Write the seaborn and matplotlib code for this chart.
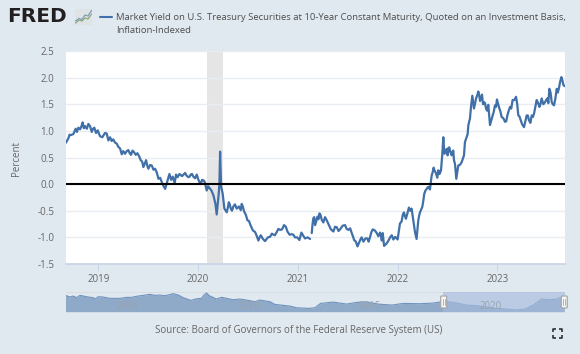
import seaborn as sns
import matplotlib.pyplot as plt
from matplotlib.patches import FancyBboxPatch, Rectangle

# main series (decimal year, percent)
years = [2018.676, 2018.700, 2018.723, 2018.750, 2018.773, 2018.800, 2018.817, 2018.843, 2018.867, 2018.900,
         2018.934, 2018.960, 2018.994, 2019.017, 2019.067, 2019.101, 2019.134, 2019.168, 2019.201, 2019.235,
         2019.268, 2019.301, 2019.328, 2019.358, 2019.392, 2019.425, 2019.452, 2019.479, 2019.502, 2019.536,
         2019.569, 2019.603, 2019.636, 2019.670, 2019.713, 2019.746, 2019.766, 2019.779, 2019.813,
         2019.870, 2019.903, 2019.926, 2019.953, 2019.987, 2020.013, 2020.040, 2020.067, 2020.087, 2020.114,
         2020.134, 2020.154, 2020.174, 2020.187, 2020.207, 2020.214, 2020.221, 2020.231, 2020.247, 2020.264,
         2020.288, 2020.308, 2020.328, 2020.354, 2020.388, 2020.428, 2020.438, 2020.461, 2020.495, 2020.528,
         2020.572, 2020.605, 2020.629, 2020.672, 2020.722, 2020.756, 2020.789, 2020.822, 2020.862, 2020.896,
         2020.939, 2020.972, 2021.016, 2021.036, 2021.073, 2021.123]
values = [0.78, 0.86, 0.92, 0.94, 1.04, 1.06, 1.03, 1.16, 1.09, 1.13,
          0.98, 1.06, 1.01, 0.90, 0.96, 0.82, 0.81, 0.78, 0.70, 0.56,
          0.57, 0.64, 0.55, 0.60, 0.58, 0.45, 0.32, 0.45, 0.29, 0.35,
          0.29, 0.10, 0.04, -0.09, 0.19, 0.14, 0.02, 0.18, 0.19,
          0.21, 0.13, 0.18, 0.14, 0.18, 0.04, 0.08, 0.04, -0.12, -0.07,
          -0.12, -0.21, -0.37, -0.57, -0.18, 0.00, 0.61, -0.04, -0.18, -0.46,
          -0.53, -0.34, -0.46, -0.42, -0.46, -0.49, -0.37, -0.51, -0.68, -0.78,
          -0.90, -1.06, -0.96, -1.07, -0.99, -0.95, -0.90, -0.86, -0.77, -0.89,
          -0.94, -1.00, -1.05, -0.91, -1.02, -1.03]

# in-between wiggles of the same stretch
years_fine = [2018.712, 2018.786, 2018.830, 2018.855, 2018.885, 2018.917, 2018.947, 2018.977, 2019.040, 2019.084,
              2019.118, 2019.150, 2019.185, 2019.218, 2019.250, 2019.285, 2019.315, 2019.343, 2019.375, 2019.410,
              2019.440, 2019.465, 2019.490, 2019.520, 2019.553, 2019.586, 2019.620, 2019.652, 2019.690, 2019.730,
              2019.795, 2019.840, 2019.885, 2019.915, 2019.940, 2019.970, 2020.000, 2020.027, 2020.055, 2020.100,
              2020.300, 2020.318, 2020.340, 2020.370, 2020.410, 2020.450, 2020.480, 2020.510, 2020.550, 2020.590,
              2020.617, 2020.650, 2020.700, 2020.740, 2020.770, 2020.805, 2020.842, 2020.880, 2020.918, 2020.955,
              2020.995, 2021.026, 2021.055, 2021.100]
values_fine = [0.93, 0.98, 1.08, 1.05, 1.04, 1.09, 1.04, 0.96, 0.88, 0.95,
               0.88, 0.84, 0.76, 0.67, 0.62, 0.62, 0.58, 0.63, 0.55, 0.52,
               0.42, 0.38, 0.35, 0.36, 0.27, 0.22, 0.12, -0.03, 0.04, 0.08,
               0.13, 0.15, 0.16, 0.14, 0.19, 0.11, 0.10, 0.00, 0.07, -0.04,
               -0.43, -0.38, -0.50, -0.38, -0.42, -0.43, -0.58, -0.69, -0.87, -0.98,
               -1.00, -1.03, -1.00, -0.93, -0.96, -0.84, -0.85, -0.80, -0.95, -0.95,
               -1.00, -0.98, -0.97, -1.00]

# after the hole in the data early in 2021
years2 = [2021.140, 2021.156, 2021.173, 2021.197, 2021.217, 2021.240, 2021.273, 2021.307, 2021.357, 2021.391,
          2021.424, 2021.474, 2021.508, 2021.541, 2021.565, 2021.598, 2021.625, 2021.658, 2021.698, 2021.725,
          2021.752, 2021.792, 2021.825, 2021.842, 2021.852, 2021.865, 2021.909, 2021.942, 2021.976, 2022.001,
          2022.024, 2022.041, 2022.064, 2022.084, 2022.114, 2022.141, 2022.158, 2022.175, 2022.191, 2022.208,
          2022.225, 2022.248, 2022.268, 2022.292, 2022.325, 2022.342, 2022.362, 2022.382, 2022.399, 2022.409,
          2022.436, 2022.449, 2022.459, 2022.469, 2022.492, 2022.502, 2022.519, 2022.543, 2022.559, 2022.576,
          2022.589, 2022.609, 2022.643, 2022.666, 2022.676, 2022.703, 2022.710, 2022.726, 2022.750, 2022.766,
          2022.787, 2022.810, 2022.827, 2022.847, 2022.867, 2022.887, 2022.910, 2022.927, 2022.954, 2022.977,
          2022.997, 2023.021, 2023.044, 2023.078, 2023.101, 2023.128, 2023.154, 2023.188, 2023.211, 2023.235,
          2023.268, 2023.295, 2023.318, 2023.345, 2023.369, 2023.395, 2023.422, 2023.445, 2023.479, 2023.502,
          2023.522, 2023.546, 2023.569, 2023.596, 2023.619, 2023.643, 2023.663, 2023.676]
values2 = [-0.92, -0.64, -0.77, -0.61, -0.55, -0.67, -0.62, -0.75, -0.89, -0.81,
           -0.85, -0.77, -0.86, -0.92, -1.05, -1.17, -1.05, -1.08, -1.02, -0.99,
           -0.85, -0.92, -0.91, -1.06, -0.92, -1.16, -1.06, -0.96, -0.99, -1.04,
           -0.74, -0.70, -0.53, -0.65, -0.44, -0.46, -0.68, -0.90, -1.03, -0.68,
           -0.53, -0.43, -0.18, -0.09, -0.10, 0.16, 0.31, 0.22, 0.12, 0.26,
           0.26, 0.57, 0.88, 0.57, 0.66, 0.54, 0.69, 0.54, 0.63, 0.38,
           0.10, 0.35, 0.41, 0.54, 0.79, 0.94, 1.11, 1.23, 1.66, 1.42,
           1.61, 1.74, 1.56, 1.68, 1.54, 1.42, 1.49, 1.11, 1.29, 1.48,
           1.59, 1.42, 1.26, 1.17, 1.29, 1.45, 1.58, 1.64, 1.29, 1.20,
           1.07, 1.29, 1.20, 1.29, 1.33, 1.58, 1.45, 1.61, 1.54, 1.61,
           1.79, 1.54, 1.48, 1.79, 1.81, 2.01, 1.86, 1.84]

years2_fine = [2021.148, 2021.165, 2021.185, 2021.207, 2021.228, 2021.256, 2021.290, 2021.332, 2021.374, 2021.408,
               2021.450, 2021.490, 2021.525, 2021.553, 2021.582, 2021.610, 2021.640, 2021.678, 2021.710, 2021.738,
               2021.772, 2021.808, 2021.833, 2021.888, 2021.925, 2021.958, 2022.052, 2022.074, 2022.099, 2022.127,
               2022.216, 2022.236, 2022.258, 2022.280, 2022.308, 2022.352, 2022.372, 2022.422, 2022.480, 2022.510,
               2022.530, 2022.550, 2022.566, 2022.625, 2022.655, 2022.738, 2022.758, 2022.776, 2022.798, 2022.818,
               2022.837, 2022.857, 2022.877, 2022.898, 2022.940, 2022.965, 2022.987, 2023.009, 2023.032, 2023.060,
               2023.090, 2023.115, 2023.140, 2023.171, 2023.200, 2023.223, 2023.250, 2023.282, 2023.306, 2023.332,
               2023.357, 2023.382, 2023.410, 2023.433, 2023.462, 2023.490, 2023.512, 2023.534, 2023.557, 2023.582,
               2023.607, 2023.630, 2023.653]
values2_fine = [-0.75, -0.62, -0.70, -0.66, -0.58, -0.72, -0.68, -0.85, -0.80, -0.88,
                -0.78, -0.84, -0.83, -0.98, -1.08, -1.12, -1.00, -1.02, -1.08, -0.90,
                -0.87, -0.98, -0.96, -1.12, -1.00, -1.04, -0.58, -0.60, -0.55, -0.50,
                -0.60, -0.48, -0.32, -0.12, -0.05, 0.22, 0.25, 0.19, 0.62, 0.68,
                0.60, 0.60, 0.45, 0.36, 0.48, 1.48, 1.54, 1.50, 1.66, 1.68,
                1.62, 1.50, 1.52, 1.38, 1.20, 1.36, 1.45, 1.50, 1.36, 1.24,
                1.18, 1.38, 1.42, 1.58, 1.50, 1.27, 1.12, 1.18, 1.29, 1.15,
                1.26, 1.45, 1.52, 1.50, 1.50, 1.58, 1.52, 1.72, 1.50, 1.60,
                1.72, 1.92, 1.95]

# navigator strip, whole history
nav_years = [2003.06, 2003.24, 2003.38, 2003.52, 2003.66, 2003.93, 2004.21, 2004.28, 2004.41, 2004.62,
             2004.90, 2005.31, 2005.58, 2005.79, 2005.98, 2006.27, 2006.55, 2006.76, 2006.96, 2007.17,
             2007.51, 2007.72, 2007.93, 2008.24, 2008.48, 2008.68, 2008.78, 2008.89, 2009.00, 2009.19,
             2009.28, 2009.51, 2009.79, 2009.99, 2010.27, 2010.61, 2010.89, 2011.09, 2011.51, 2011.71,
             2012.33, 2012.61, 2013.09, 2013.37, 2013.60, 2014.12, 2014.68, 2015.09, 2015.50, 2015.98,
             2016.54, 2017.02, 2017.71, 2018.26, 2018.67, 2019.08, 2019.63, 2020.19, 2020.74, 2021.15,
             2021.70, 2022.05, 2022.39, 2022.73, 2023.08, 2023.35, 2023.52, 2023.67]
nav_values = [2.42, 2.00, 2.25, 1.83, 2.42, 2.08, 1.83, 1.50, 2.08, 2.00,
              1.67, 1.67, 1.92, 1.92, 2.17, 2.42, 2.67, 2.42, 2.50, 2.33,
              2.83, 2.50, 1.83, 1.17, 1.58, 1.67, 2.50, 3.00, 2.33, 1.83,
              1.50, 1.92, 1.58, 1.33, 1.50, 1.17, 0.83, 1.25, 0.83, 0.17,
              -0.25, -0.67, -0.83, -0.67, 0.42, 0.75, 0.25, 0.67, 0.80, 0.25,
              0.00, 0.42, 0.33, 0.50, 0.92, 0.67, 0.00, -0.25, -0.75, -0.92,
              -1.25, -1.00, 0.00, 1.50, 1.33, 1.50, 1.92, 1.67]

y_ticks = [-1.5, -1.0, -0.5, 0.0, 0.5, 1.0, 1.5, 2.0, 2.5]
x_ticks = [2019, 2020, 2021, 2022, 2023]
nav_ticks = [2005, 2010, 2015, 2020]
recession = [2020.085, 2020.255]

W, H = 580, 354
BG = "#e1e9f0"
BLUE = "#4170a8"
GREY = "#666666"

sns.set_theme(style="white")
plt.rcParams["font.family"] = ["Open Sans", "DejaVu Sans"]


def box(x0, y0, x1, y1):
    return [x0 / W, 1 - y1 / H, (x1 - x0) / W, (y1 - y0) / H]


fig = plt.figure(figsize=(5.8, 3.54), dpi=100, facecolor=BG)

ax = fig.add_axes(box(65.5, 51, 565, 264))
ax.axvspan(recession[0], recession[1], color="#e5e5e5", lw=0, zorder=0)
sns.lineplot(x=years + years_fine, y=values + values_fine, ax=ax, color=BLUE, lw=1.6, estimator=None)
sns.lineplot(x=years2 + years2_fine, y=values2 + values2_fine, ax=ax, color=BLUE, lw=1.6, estimator=None)
ax.axhline(0, color="black", lw=1.5, zorder=3)
ax.set_xlim(2018.671, 2023.679)
ax.set_ylim(-1.5, 2.5)
ax.set_yticks(y_ticks)
ax.set_yticklabels([f"{v:.1f}" for v in y_ticks])
ax.set_xticks(x_ticks)
ax.set_xticklabels([str(v) for v in x_ticks])
ax.grid(axis="y", color="#e9edf1", lw=1)
ax.set_axisbelow(True)
ax.tick_params(axis="y", length=0, pad=8, labelsize=7, labelcolor=GREY)
ax.tick_params(axis="x", length=5, width=0.8, color="#c8d5e6", pad=2, labelsize=7, labelcolor=GREY, bottom=True)
for s in ["top", "right", "left"]:
    ax.spines[s].set_visible(False)
ax.spines["bottom"].set_color("#c8d5e6")
ax.set_xlabel("")
ax.set_ylabel("Percent", fontsize=7, color=GREY, labelpad=0)
ax.yaxis.set_label_coords((22 - 65.5) / 499.5, (264 - 158) / 213)

# navigator
nav = fig.add_axes(box(65.5, 291.7, 565, 311.7))
nav.set_facecolor(BG)
nav.fill_between(nav_years, nav_values, -1.65, color="#8fa9c9", lw=0, zorder=1)
sns.lineplot(x=nav_years, y=nav_values, ax=nav, color="#7092bd", lw=0.8, sort=False, estimator=None, zorder=2)
nav.axvspan(2018.67, 2023.68, color="#a6bbdd", alpha=0.65, lw=0, zorder=3)
nav.set_xlim(2003.06, 2023.7)
nav.set_ylim(-1.65, 3.33)
nav.set_xticks([])
nav.set_yticks([])
nav.set_xlabel("")
nav.set_ylabel("")
for s in nav.spines.values():
    s.set_visible(False)
nav.add_patch(Rectangle((0, 0.93), 1, 0.07, transform=nav.transAxes, color="#d8dde2", lw=0, zorder=0))
for yr in nav_ticks:
    nav.text(yr + 0.15, 0.27, str(yr), transform=nav.get_xaxis_transform(), color="#9aa3ad", fontsize=7,
             va="center", ha="left", zorder=4)

# everything outside the axes, in figure pixels
over = fig.add_axes([0, 0, 1, 1], facecolor="none")
over.set_xlim(0, W)
over.set_ylim(H, 0)
over.axis("off")

over.text(7.5, 16.5, "FRED", fontsize=14.5, fontweight="bold", family="DejaVu Sans", color="#231f20",
          va="center", ha="left")
over.add_patch(Rectangle((75, 9), 17, 15.5, color="#dfe3e3", lw=0))
over.plot([75.5, 79, 82, 85, 88, 91.5], [21, 18.5, 19.5, 15, 16, 10.5], color="#7f9db8", lw=0.9)
over.plot([75.5, 79, 82, 85, 88, 91.5], [23, 20, 21, 18, 19, 14], color="#8ba97a", lw=0.9)

over.plot([100, 111.5], [16.5, 16.5], color=BLUE, lw=1.5)
over.text(116, 17, "Market Yield on U.S. Treasury Securities at 10-Year Constant Maturity, Quoted on an Investment Basis,",
          fontsize=6.8, color="#4d4d4d", va="center", ha="left")
over.text(116, 30.5, "Inflation-Indexed", fontsize=6.8, color="#4d4d4d", va="center", ha="left")

over.text(299, 331, "Source: Board of Governors of the Federal Reserve System (US)", fontsize=7, color="#666666",
          va="center", ha="center")

for hx in [443.7, 564.3]:
    over.add_patch(FancyBboxPatch((hx - 3, 296), 6, 12, boxstyle="round,pad=0,rounding_size=1.2",
                                  fc="#f6f6f6", ec="#a8a8a8", lw=0.9, zorder=5))
    over.plot([hx - 0.9, hx - 0.9], [299, 305], color="#a8a8a8", lw=0.6, zorder=6)
    over.plot([hx + 0.9, hx + 0.9], [299, 305], color="#a8a8a8", lw=0.6, zorder=6)

# fullscreen corners
for cx, cy, dx, dy in [(553, 329, 1, 1), (562, 329, -1, 1), (553, 337.5, 1, -1), (562, 337.5, -1, -1)]:
    over.plot([cx + 3 * dx, cx, cx], [cy, cy, cy + 3 * dy], color="#222222", lw=1.1, solid_capstyle="butt")

fig.savefig("out.png", dpi=100, facecolor=BG)
